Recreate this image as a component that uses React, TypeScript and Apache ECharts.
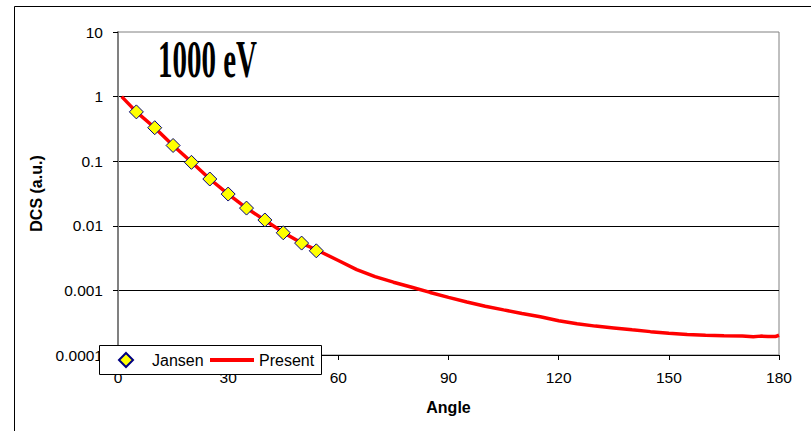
import React, { useEffect, useRef } from "react";
import * as echarts from "echarts";

const yTickLabels = ["0.0001", "0.001", "0.01", "0.1", "1", "10"];
const xTicks = [0, 30, 60, 90, 120, 150, 180];

// Jansen experimental points: [angle, DCS]
const jansenAngles = [5, 10, 15, 20, 25, 30, 35, 40, 45, 50, 54];
const jansenValues = [0.58, 0.33, 0.175, 0.096, 0.053, 0.031, 0.0188, 0.0123, 0.0078, 0.0054, 0.0041];

// Present calculation
const presentAngles = [1, 5, 10, 15, 20, 25, 30, 35, 40, 45, 50, 55, 60, 65, 70, 75, 80, 85, 90, 95, 100, 105, 110, 115, 120, 125, 130, 135, 140, 145, 150, 155, 160, 165, 170, 173, 175, 177, 179, 180];
const presentValues = [1.0, 0.58, 0.33, 0.175, 0.097, 0.053, 0.031, 0.0188, 0.0122, 0.0079, 0.0054, 0.004, 0.0029, 0.0021, 0.00163, 0.00134, 0.00112, 0.00093, 0.00078, 0.00066, 0.00057, 0.0005, 0.00044, 0.00039, 0.00034, 0.000305, 0.00028, 0.000262, 0.000245, 0.00023, 0.000218, 0.000208, 0.000202, 0.000199, 0.000197, 0.000192, 0.000196, 0.000194, 0.000193, 0.000202];

const titleText = "1000 eV";

export default function App() {
  const ref = useRef<HTMLDivElement>(null);
  useEffect(() => {
    if (!ref.current) return;
    const chart = echarts.init(ref.current, null, { renderer: "svg" });
    const jansen = jansenAngles.map((a, i) => [a, jansenValues[i]]);
    const present = presentAngles.map((a, i) => [a, presentValues[i]]);
    const legendText = { fontSize: 16, color: "#000", fontFamily: "'Liberation Sans', Arial, sans-serif" };
    chart.setOption({
      animation: false,
      backgroundColor: "#ffffff",
      textStyle: { fontFamily: "'Liberation Sans', Arial, sans-serif" },
      grid: {
        left: 118,
        right: 32,
        top: 32,
        bottom: 76,
        show: true,
        borderColor: "#808080",
        borderWidth: 1,
        backgroundColor: "transparent",
      },
      graphic: [
        {
          type: "rect",
          shape: { x: 14.5, y: 6.5, width: 1200, height: 1200 },
          style: { fill: "none", stroke: "#000", lineWidth: 1 },
          silent: true,
          z: -1,
        },
        {
          type: "text",
          x: 158,
          y: 59,
          scaleX: 0.547,
          style: {
            text: titleText,
            x: 0,
            y: 0,
            fill: "#000",
            font: "bold 53px 'Liberation Serif', 'Times New Roman', serif",
            align: "left",
            verticalAlign: "middle",
          },
          z: 10,
        },
        {
          type: "rect",
          shape: { x: 99.5, y: 345.5, width: 222, height: 29 },
          style: { fill: "#ffffff", stroke: "#000", lineWidth: 1 },
          silent: true,
          z: 50,
        },
      ],
      legend: [
        {
          left: 118,
          top: 352,
          orient: "horizontal",
          padding: 0,
          itemWidth: 14,
          itemHeight: 14,
          textStyle: { ...legendText, padding: [0, 0, 0, 14] },
          data: [{ name: "Jansen", icon: "diamond" }],
          z: 60,
        },
        {
          left: 210,
          top: 352,
          orient: "horizontal",
          padding: 0,
          itemWidth: 44,
          itemHeight: 4,
          textStyle: legendText,
          data: [{ name: "Present", icon: "rect" }],
          z: 60,
        },
      ],
      xAxis: {
        type: "value",
        min: 0,
        max: 180,
        interval: 30,
        name: "Angle",
        nameLocation: "middle",
        nameGap: 44,
        nameTextStyle: { fontSize: 16, fontWeight: "bold", color: "#000" },
        axisLine: { show: true, lineStyle: { color: "#000", width: 1 } },
        axisTick: { show: true, inside: false, length: 5, lineStyle: { color: "#000" } },
        axisLabel: {
          fontSize: 15.5,
          color: "#000",
          margin: 14,
          formatter: (v: number) => (xTicks.includes(v) ? String(v) : ""),
        },
        splitLine: { show: false },
      },
      yAxis: {
        type: "log",
        logBase: 10,
        min: 0.0001,
        max: 10,
        name: "DCS (a.u.)",
        nameLocation: "middle",
        nameGap: 74,
        nameTextStyle: { fontSize: 16, fontWeight: "bold", color: "#000" },
        axisLine: { show: true, lineStyle: { color: "#808080", width: 2 } },
        axisTick: { show: true, inside: false, length: 5, lineStyle: { color: "#000" } },
        axisLabel: {
          fontSize: 15.5,
          color: "#000",
          margin: 15,
          formatter: (v: number) => {
            const idx = Math.round(Math.log10(v)) + 4;
            return yTickLabels[idx] ?? "";
          },
        },
        splitLine: { show: true, showMaxLine: false, lineStyle: { color: "#000", width: 1 } },
      },
      series: [
        {
          name: "Jansen",
          type: "scatter",
          data: jansen,
          symbol: "diamond",
          symbolSize: 14,
          itemStyle: { color: "#FFFF00", borderColor: "#000080", borderWidth: 1, opacity: 1 },
          z: 5,
        },
        {
          name: "Present",
          type: "line",
          data: present,
          showSymbol: false,
          symbol: "none",
          smooth: false,
          lineStyle: { color: "#FF0000", width: 3.5 },
          itemStyle: { color: "#FF0000" },
          z: 3,
        },
      ],
    });
    return () => chart.dispose();
  }, []);
  return (
    <div
      ref={ref}
      style={{ position: "absolute", left: 0, top: 0, width: 811, height: 431, background: "#fff" }}
    />
  );
}
